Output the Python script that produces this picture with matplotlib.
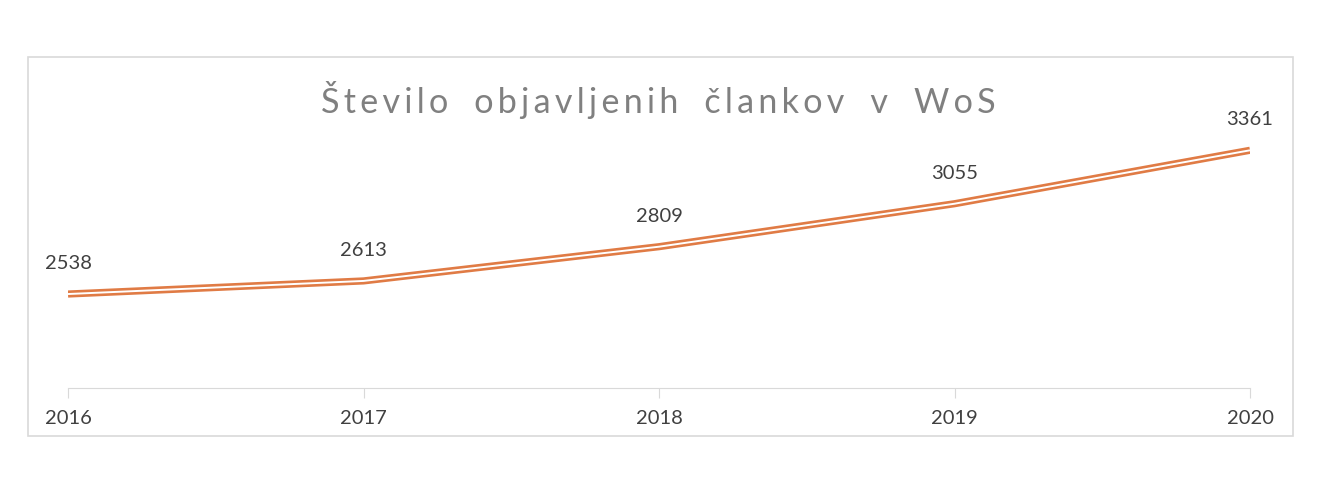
import matplotlib.pyplot as plt
from matplotlib.patches import Rectangle

years = [2016, 2017, 2018, 2019, 2020]
articles = [2538, 2613, 2809, 3055, 3361]
title = "Število objavljenih člankov v WoS"

plt.rcParams['font.family'] = ['Lato', 'DejaVu Sans']

fig = plt.figure(figsize=(13.34, 4.99), dpi=100)
fig.patches.append(Rectangle((28 / 1334, 1 - 436 / 499), 1265 / 1334, 379 / 499,
                             transform=fig.transFigure, fill=False,
                             edgecolor='#d9d9d9', linewidth=1.2))

ax = fig.add_axes([68 / 1334, 1 - 388 / 499, 1182 / 1334, 262 / 499])
x = list(range(len(years)))
ax.plot(x, articles, color='#e07b45', linewidth=5.2, solid_capstyle='butt')
ax.plot(x, articles, color='white', linewidth=1.4, solid_capstyle='butt')

for xi, v in zip(x, articles):
    ax.annotate(str(v), (xi, v), xytext=(0, 22), textcoords='offset points',
                ha='center', va='center', fontsize=14.5, color='#404040')

ax.set_xlim(0, len(years) - 1)
ax.set_ylim(2000, 3500)
ax.set_xticks(x)
ax.set_xticklabels([str(y) for y in years], fontsize=14.5, color='#404040')
ax.set_yticks([])
for s in ['top', 'right', 'left']:
    ax.spines[s].set_visible(False)
ax.spines['bottom'].set_color('#d9d9d9')
ax.tick_params(axis='x', length=7, color='#d9d9d9', pad=9)

spaced = '\u2009'.join(title).replace(' ', '  ')
fig.text(658 / 1334, 1 - 100 / 499, spaced, ha='center', va='center',
         fontsize=24.6, color='#808080')

fig.savefig('out.png', dpi=100)
